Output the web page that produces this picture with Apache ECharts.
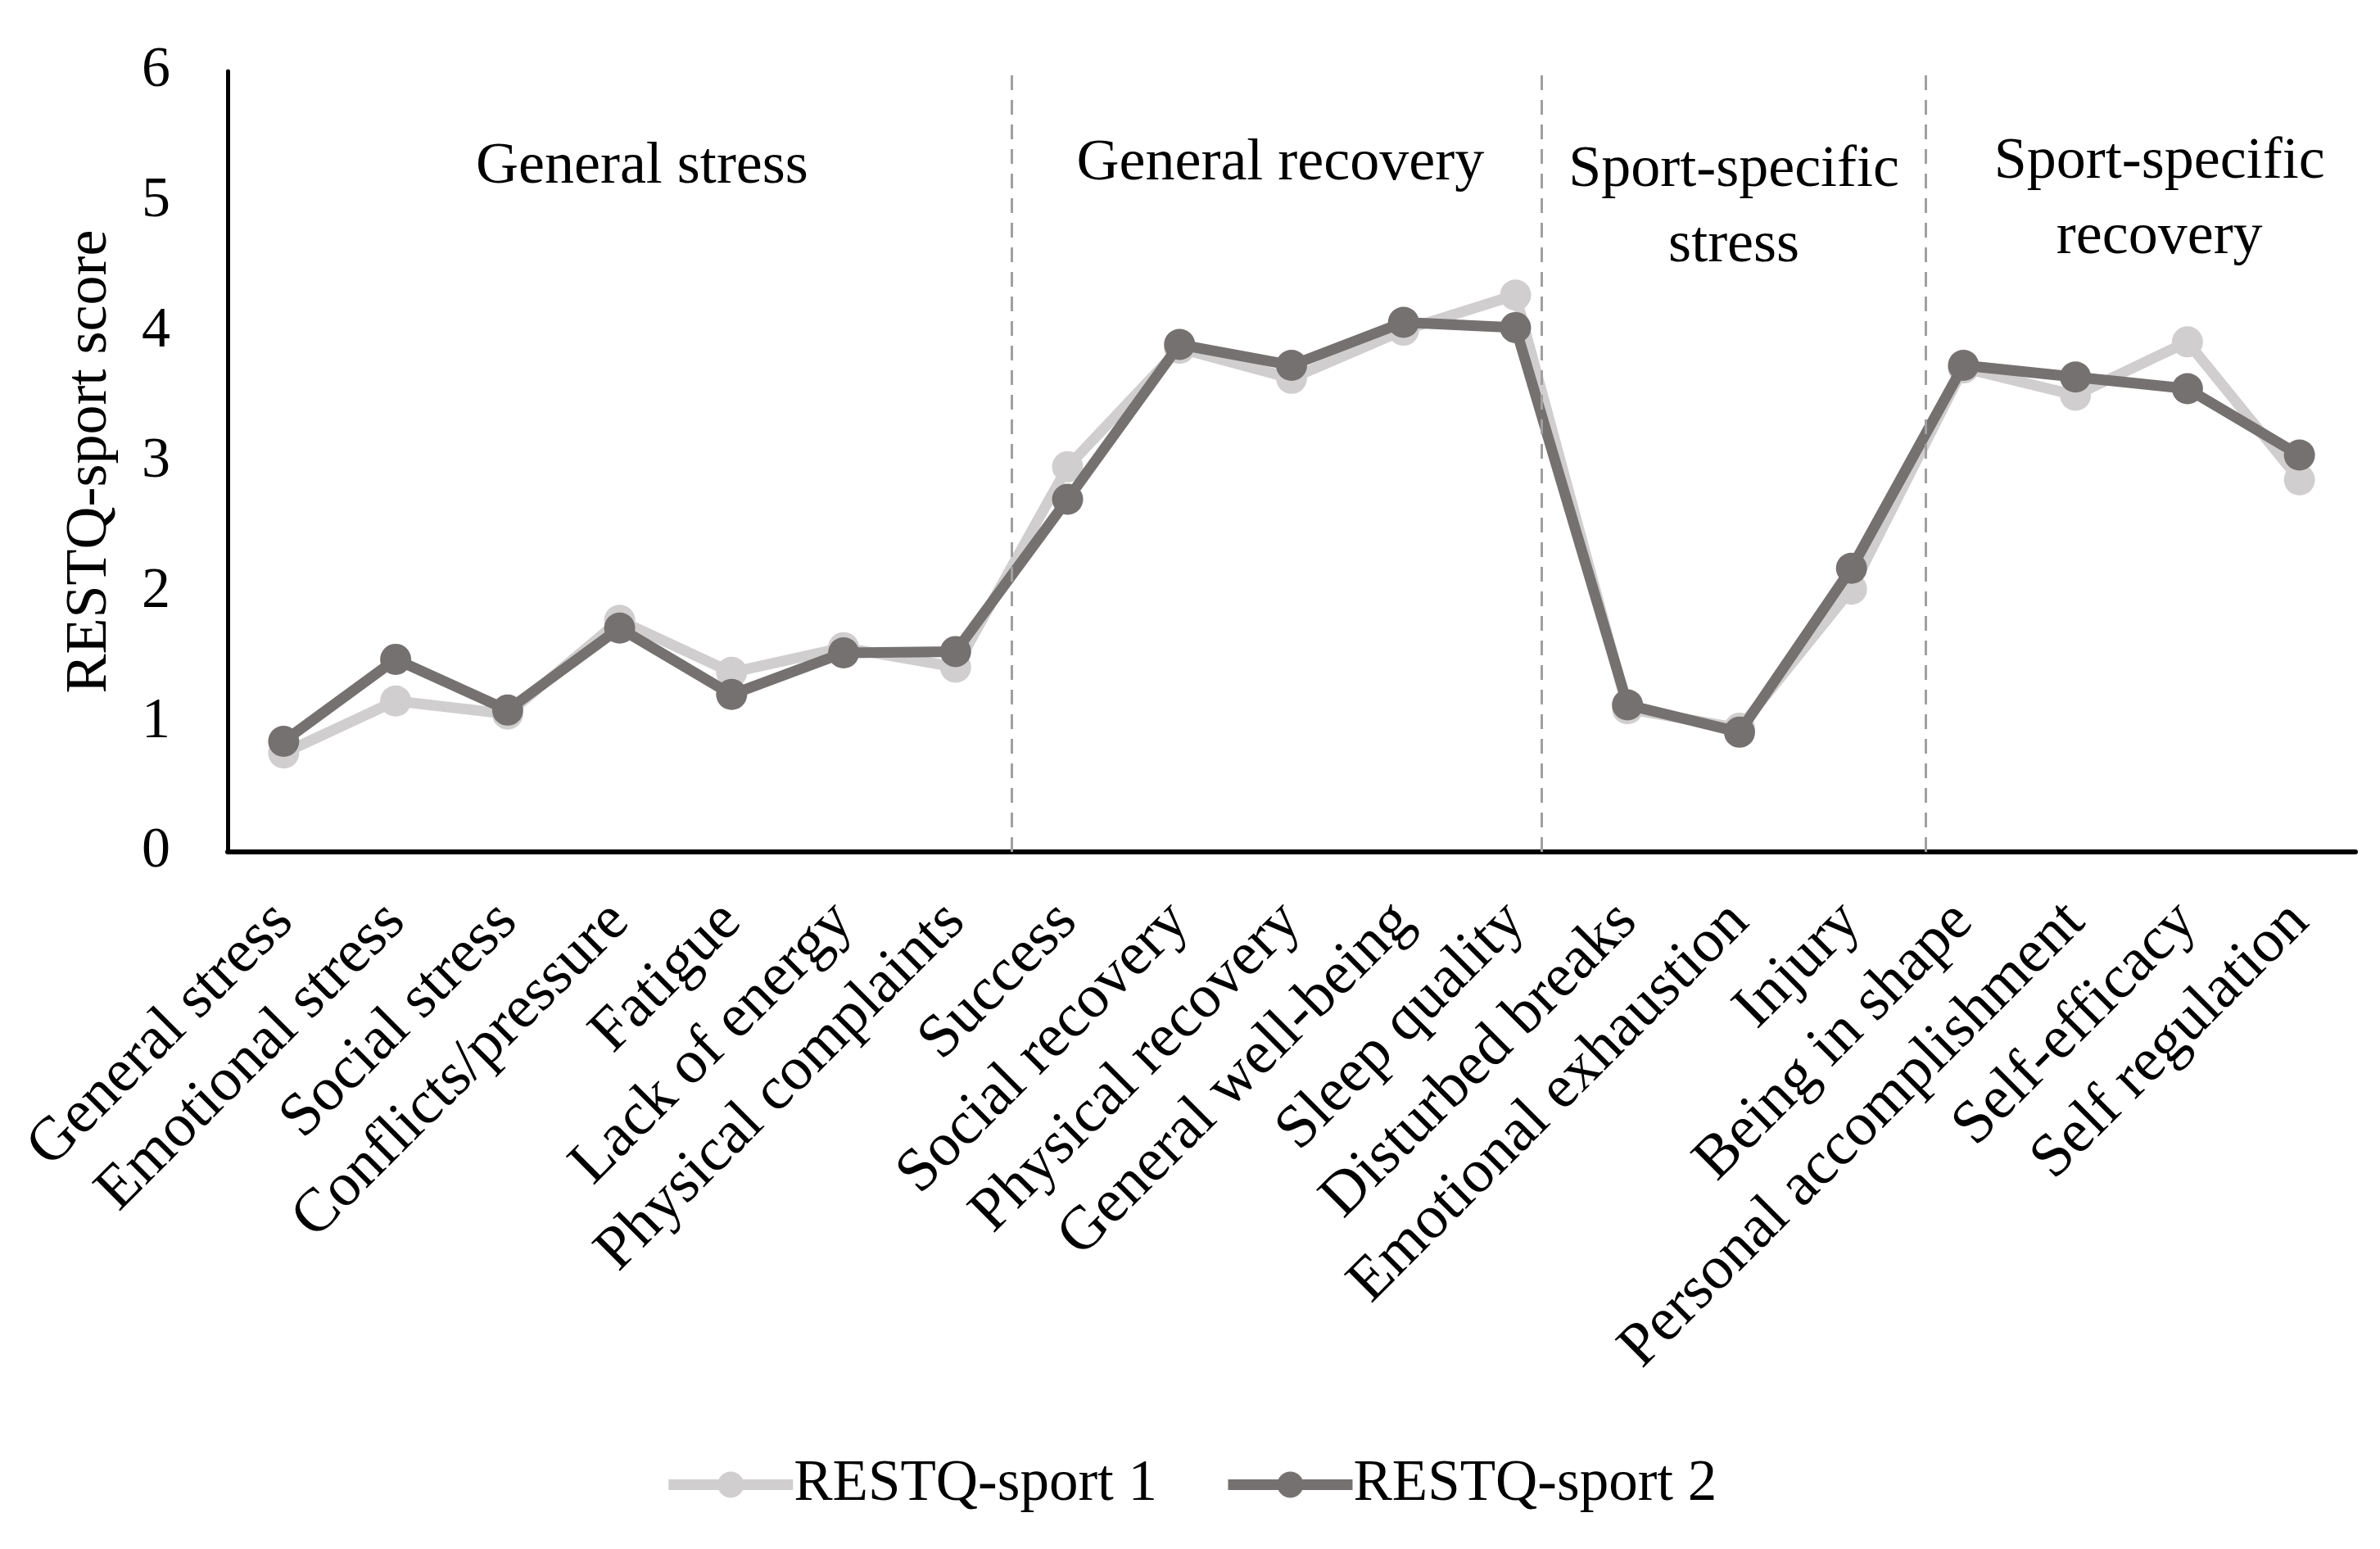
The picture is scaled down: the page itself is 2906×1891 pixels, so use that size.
<!DOCTYPE html>
<html>
<head>
<meta charset="utf-8">
<script src="https://cdn.jsdelivr.net/npm/echarts@6/dist/echarts.min.js"></script>
<style>
  html, body { margin: 0; padding: 0; background: #fff; }
  #chart { width: 2906px; height: 1891px; }
</style>
</head>
<body>
<div id="chart"></div>
<script>
var categories = [
  "General stress", "Emotional stress", "Social stress", "Conflicts/pressure",
  "Fatigue", "Lack of energy", "Physical complaints", "Success",
  "Social recovery", "Physical recovery", "General well-being", "Sleep quality",
  "Disturbed breaks", "Emotional exhaustion", "Injury", "Being in shape",
  "Personal accomplishment", "Self-efficacy", "Self regulation"
];

var sport1 = [0.76, 1.16, 1.06, 1.78, 1.38, 1.57, 1.42, 2.96,
  3.87, 3.64, 4.01, 4.28, 1.10, 0.95, 2.02, 3.72, 3.51, 3.92, 2.86];

var sport2 = [0.85, 1.48, 1.09, 1.72, 1.21, 1.53, 1.54, 2.71,
  3.90, 3.74, 4.07, 4.03, 1.13, 0.92, 2.18, 3.74, 3.65, 3.56, 3.05];

// section headings: [x position on the category scale, y value, text]
var sections = [
  [3.2, 5.26, "General stress"],
  [8.9, 5.29, "General recovery"],
  [12.95, 4.95, "Sport-specific\nstress"],
  [16.75, 5.01, "Sport-specific\nrecovery"]
];

// dashed separators, in category units (0 = first category)
var separators = [6.5, 11.23, 14.66];

var font = "'Palatino Linotype', Palatino, 'Book Antiqua', 'Liberation Serif', serif";

var chart = echarts.init(document.getElementById("chart"));
var option = {
  backgroundColor: "#fff",
  animation: false,
  textStyle: { fontFamily: font, color: "#000" },
  grid: { left: 278, right: 30, top: 87, bottom: 851 },
  legend: {
    bottom: 38,
    left: "center",
    itemWidth: 152,
    itemHeight: 40,
    itemGap: 80,
    lineStyle: { width: 13 },
    textStyle: { fontFamily: font, fontSize: 71, color: "#000", padding: [0, 0, 0, -4] },
    data: ["RESTQ-sport 1", "RESTQ-sport 2"]
  },
  xAxis: [
    {
      type: "category",
      data: categories,
      boundaryGap: true,
      axisLine: { lineStyle: { color: "#000", width: 6 } },
      axisTick: { show: false },
      axisLabel: {
        rotate: 45,
        interval: 0,
        margin: 74,
        fontSize: 75,
        color: "#000",
        fontFamily: font
      },
      splitLine: { show: false }
    },
    {
      type: "value",
      min: -0.5,
      max: 18.5,
      show: false
    }
  ],
  yAxis: {
    type: "value",
    min: 0,
    max: 6,
    interval: 1,
    name: "RESTQ-sport score",
    nameLocation: "middle",
    nameGap: 132,
    nameTextStyle: { fontSize: 72, color: "#000", fontFamily: font },
    axisLine: { show: true, onZero: false, lineStyle: { color: "#000", width: 5 } },
    axisTick: { show: false },
    axisLabel: { fontSize: 70, color: "#000", margin: 70, fontFamily: font },
    splitLine: { show: false }
  },
  series: [
    {
      name: "RESTQ-sport 1",
      type: "line",
      data: sport1,
      symbol: "circle",
      symbolSize: 38,
      lineStyle: { color: "#d0cece", width: 13 },
      itemStyle: { color: "#d0cece" },
      z: 2
    },
    {
      name: "RESTQ-sport 2",
      type: "line",
      data: sport2,
      symbol: "circle",
      symbolSize: 38,
      lineStyle: { color: "#767171", width: 13 },
      itemStyle: { color: "#767171" },
      z: 3
    },
    {
      type: "scatter",
      xAxisIndex: 1,
      symbolSize: 0,
      silent: true,
      z: 1,
      itemStyle: { opacity: 1 },
      data: sections.map(function (s) { return { value: [s[0], s[1]], name: s[2] }; }),
      label: {
        show: true,
        position: "inside",
        formatter: function (p) { return p.name; },
        fontSize: 72,
        lineHeight: 92,
        color: "#000",
        opacity: 1,
        textBorderWidth: 0,
        fontFamily: font,
        align: "center"
      },
      markLine: {
        silent: true,
        symbol: "none",
        label: { show: false },
        lineStyle: { color: "#a0a0a0", width: 3, type: [18, 12] },
        data: separators.map(function (v) { return { xAxis: v }; })
      }
    }
  ]
};
chart.setOption(option);
</script>
</body>
</html>
